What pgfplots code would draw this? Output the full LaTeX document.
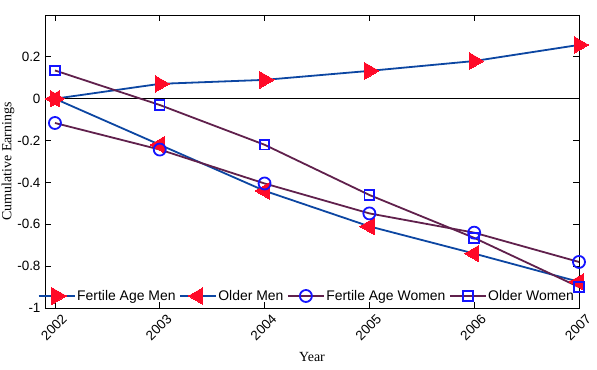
\documentclass[border=0pt]{standalone}
\usepackage{pgfplots}
\pgfplotsset{compat=1.18}
\usepackage{fontspec}
\setmainfont{Liberation Serif}
\newfontfamily\hel{Liberation Sans}
\definecolor{lblue}{RGB}{12,70,162}
\definecolor{lpurp}{RGB}{96,32,76}
\definecolor{mred}{RGB}{255,10,40}
\definecolor{mblue}{RGB}{20,20,255}
\begin{document}
\begin{tikzpicture}
\begin{axis}[
  name=ax,
  scale only axis,
  width=534bp, height=293bp,
  xmin=2001.905, xmax=2007,
  ymin=-1, ymax=0.4,
  xtick={2002,2003,2004,2005,2006,2007},
  xticklabels={2002,2003,2004,2005,2006,2007},
  ytick={-1,-0.8,-0.6,-0.4,-0.2,0,0.2},
  yticklabels={-1,-0.8,-0.6,-0.4,-0.2,0,0.2},
  tick align=inside,
  major tick length=6bp,
  axis line style={line width=0.9bp},
  every tick/.style={black, line width=0.8bp},
  tick label style={font=\hel\fontsize{13.5}{15}\selectfont},
  xticklabel style={rotate=45, anchor=east, xshift=4bp, yshift=-13bp},
  yticklabel style={xshift=-1bp},
  xlabel={Year},
  ylabel={Cumulative Earnings},
  label style={font=\fontsize{14}{16}\selectfont},
  xlabel style={at={(rel axis cs:0.5,0)}, anchor=center, yshift=-49bp},
  ylabel style={at={(rel axis cs:0,0.5)}, anchor=center, rotate=0, yshift=37bp},
  legend columns=4,
  legend style={at={(0.49,0.041)}, anchor=center, draw=none, fill=none,
    font=\hel\fontsize{14}{15}\selectfont, inner sep=0pt,
    nodes={inner sep=1.5bp},
    /tikz/every even column/.append style={column sep=2bp}},
  legend image code/.code={\draw[mark repeat=2,mark phase=2] plot coordinates {(0bp,0bp) (18bp,0bp) (36bp,0bp)};},
]
\addplot[black, line width=0.7bp, forget plot] coordinates {(2001.905,0) (2007,0)};
\addplot[lblue, line width=1.8bp, mark=triangle*, mark size=9.5bp,
  mark options={rotate=-90, fill=mred, draw=mred, line width=0pt}]
  coordinates {(2002,0) (2003,0.071) (2004,0.09) (2005,0.133) (2006,0.18) (2007,0.257)};
\addlegendentry{Fertile Age Men}
\addplot[lblue, line width=1.8bp, mark=triangle*, mark size=9.5bp,
  mark options={rotate=90, fill=mred, draw=mred, line width=0pt}]
  coordinates {(2002,0) (2003,-0.22) (2004,-0.44) (2005,-0.61) (2006,-0.74) (2007,-0.875)};
\addlegendentry{Older Men}
\addplot[lpurp, line width=1.8bp, mark=o, mark size=6bp,
  mark options={draw=mblue, line width=1.8bp}]
  coordinates {(2002,-0.116) (2003,-0.243) (2004,-0.405) (2005,-0.548) (2006,-0.64) (2007,-0.78)};
\addlegendentry{Fertile Age Women}
\addplot[lpurp, line width=1.8bp, mark=square, mark size=4.8bp,
  mark options={draw=mblue, line width=1.8bp}]
  coordinates {(2002,0.135) (2003,-0.03) (2004,-0.22) (2005,-0.46) (2006,-0.665) (2007,-0.9)};
\addlegendentry{Older Women}
\end{axis}
\pgfresetboundingbox
\path ([shift={(-45bp,-62bp)}]ax.south west) rectangle ([shift={(18bp,15bp)}]ax.north east);
\end{tikzpicture}
\end{document}
